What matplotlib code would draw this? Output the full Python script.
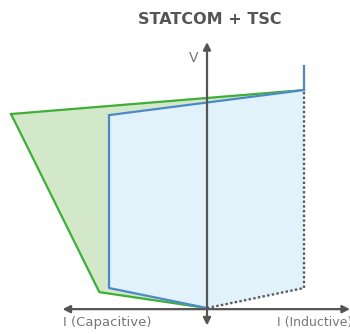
import matplotlib.pyplot as plt

# V-I characteristic (I in per unit, V in per unit; capacitive side negative)
green_i = [-2.02, -1.11, 0.0, 1.0]
green_v = [0.89, 0.073, 0.0, 1.0]

blue_i = [-1.01, -1.01, 0.0, 1.0, 1.0]
blue_v = [0.885, 0.092, 0.0, 0.092, 1.0]
blue_top_v = 1.11

fig = plt.figure(figsize=(3.5, 3.34), dpi=100)
ax = fig.add_axes([0, 0, 1, 1])
ax.set_xlim(-2.134, 1.474)
ax.set_ylim(-0.119, 1.413)
ax.axis('off')

# green (STATCOM + TSC) region
ax.fill(green_i, green_v, color='#d2e8c9', zorder=1)
ax.plot(green_i[:3] + [green_i[3], green_i[0]], green_v[:3] + [green_v[3], green_v[0]],
        color='#3fae3a', lw=1.6, zorder=2)

# blue (STATCOM) region
ax.fill(blue_i, blue_v, color='#e1f2fa', zorder=3)
ax.plot(blue_i[:3], blue_v[:3], color='#4d88c8', lw=1.6, zorder=4)
ax.plot([blue_i[0], blue_i[4]], [blue_v[0], blue_v[4]], color='#4d88c8', lw=1.6, zorder=4)
ax.plot([blue_i[4], blue_i[4]], [blue_v[4], blue_top_v], color='#4d88c8', lw=1.6, zorder=4)
ax.plot(blue_i[2:], blue_v[2:], color='#5a5a5a', lw=1.7, ls=(0, (1, 1)), zorder=4)

# axes with arrows
ax.annotate('', xy=(1.474, -0.005), xytext=(-1.49, -0.005),
            arrowprops=dict(arrowstyle='<|-|>', color='#555555', lw=1.6,
                            mutation_scale=11, shrinkA=0, shrinkB=0), zorder=5)
ax.annotate('', xy=(0.0, 1.22), xytext=(0.0, -0.08),
            arrowprops=dict(arrowstyle='<|-|>', color='#555555', lw=1.6,
                            mutation_scale=11, shrinkA=0, shrinkB=0), zorder=5)

ax.text(-0.14, 1.145, 'V', color='#777777', fontsize=10, ha='center', va='center')
ax.text(-1.48, -0.068, 'I (Capacitive)', color='#777777', fontsize=9.5, ha='left', va='center')
ax.text(0.72, -0.068, 'I (Inductive)', color='#777777', fontsize=9, ha='left', va='center')

fig.text(0.6, 0.943, 'STATCOM + TSC', color='#555555', fontsize=11.5, fontweight='bold',
         ha='center', va='center')

fig.savefig('out.png', dpi=100)
